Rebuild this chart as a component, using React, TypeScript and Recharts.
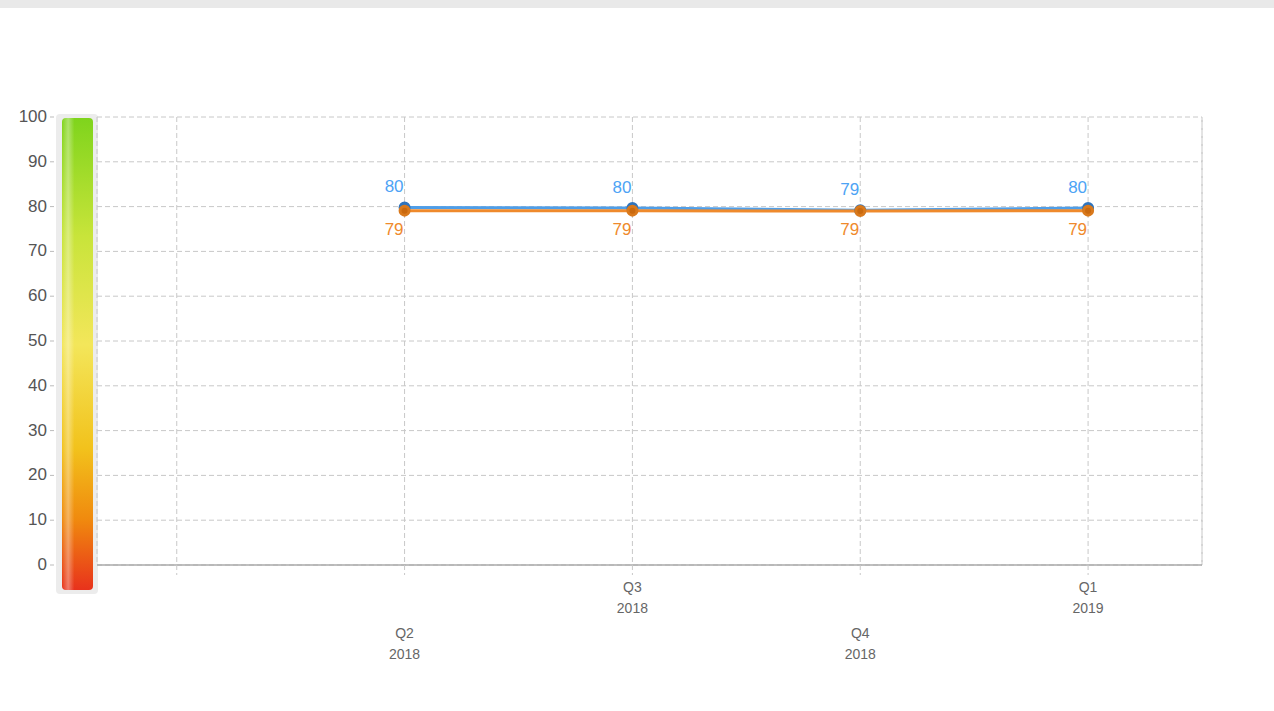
import React from "react";
import {
  LineChart,
  Line,
  XAxis,
  YAxis,
  CartesianGrid,
  LabelList,
  ReferenceLine,
} from "recharts";

// quarter index: 0 = Q1 2018 ... 4 = Q1 2019
const quarterIndex = [1, 2, 3, 4];
const quarterLabels = ["Q1", "Q2", "Q3", "Q4", "Q1"];
const yearLabels = ["2018", "2018", "2018", "2018", "2019"];
const blueSeries = [79.8, 79.7, 79.2, 79.7];
const orangeSeries = [79.1, 79.1, 79.0, 79.1];
const yTicks = [0, 10, 20, 30, 40, 50, 60, 70, 80, 90, 100];
const xTicks = [0, 1, 2, 3, 4];

const data = quarterIndex.map((x, i) => ({
  x,
  blue: blueSeries[i],
  orange: orangeSeries[i],
}));

const FONT = "'Liberation Sans', Arial, sans-serif";
const TEXT = "#555";
const GRID = "#c8c8c8";

const YTick = (props: any) => {
  const { x, y, payload } = props;
  return (
    <g>
      <text
        x={x - 50}
        y={y}
        dy={5}
        textAnchor="end"
        fontSize={17}
        fontFamily={FONT}
        fill={TEXT}
      >
        {payload.value}
      </text>
      <line x1={x - 47} x2={x - 43} y1={y} y2={y} stroke="#bbb" />
    </g>
  );
};

const XTick = (props: any) => {
  const { x, y, payload } = props;
  const i = payload.value;
  const low = i % 2 === 1;
  const top = low ? y + 59 : y + 13;
  return (
    <g>
      <line
        x1={x}
        x2={x}
        y1={y - 14}
        y2={y - 4}
        stroke={GRID}
        strokeDasharray="5 3"
      />
      {i > 0 && (
        <text
          x={x}
          y={top}
          textAnchor="middle"
          fontSize={14}
          fontFamily={FONT}
          fill="#666"
        >
          <tspan x={x} dy={0}>
            {quarterLabels[i]}
          </tspan>
          <tspan x={x} dy={21}>
            {yearLabels[i]}
          </tspan>
        </text>
      )}
    </g>
  );
};

const makeLabel = (color: string, above: boolean) => (props: any) => {
  const { x, y, value } = props;
  return (
    <text
      x={x - 1}
      y={above ? y - 15 : y + 24}
      textAnchor="end"
      fontSize={17}
      fontFamily={FONT}
      fill={color}
    >
      {Math.round(value)}
    </text>
  );
};

function GaugeBar() {
  return (
    <svg
      width={46}
      height={484}
      style={{ position: "absolute", left: 54, top: 112 }}
    >
      <defs>
        <linearGradient id="gauge" x1="0" y1="0" x2="0" y2="1">
          <stop offset="0%" stopColor="#7fd41c" />
          <stop offset="25%" stopColor="#c8e43a" />
          <stop offset="48%" stopColor="#f3e65a" />
          <stop offset="70%" stopColor="#f2c21c" />
          <stop offset="85%" stopColor="#f08a0e" />
          <stop offset="100%" stopColor="#e8321c" />
        </linearGradient>
        <linearGradient id="shine" x1="0" y1="0" x2="1" y2="0">
          <stop offset="0%" stopColor="#fff" stopOpacity={0} />
          <stop offset="20%" stopColor="#fff" stopOpacity={0.35} />
          <stop offset="40%" stopColor="#fff" stopOpacity={0} />
        </linearGradient>
      </defs>
      <rect x={2} y={2} width={42} height={480} rx={4} fill="#ececec" />
      <rect x={8} y={6} width={31} height={472} rx={4} fill="url(#gauge)" />
      <rect x={8} y={6} width={31} height={472} rx={4} fill="url(#shine)" />
    </svg>
  );
}

export default function App() {
  return (
    <div
      style={{
        position: "absolute",
        left: 0,
        top: 0,
        width: 1274,
        height: 711,
        background: "#fff",
        overflow: "hidden",
      }}
    >
      <div style={{ height: 8, background: "#e9e9e9" }} />
      <GaugeBar />
      <div style={{ position: "absolute", left: 0, top: 0 }}>
        <LineChart
          width={1274}
          height={711}
          data={data}
          margin={{ top: 117, right: 72, left: 0, bottom: 46 }}
        >
          <CartesianGrid stroke={GRID} strokeDasharray="5 3" />
          <ReferenceLine
            x={4.5}
            stroke={GRID}
            strokeDasharray="5 3"
            ifOverflow="extendDomain"
          />
          <XAxis
            type="number"
            dataKey="x"
            domain={[-0.35, 4.5]}
            ticks={xTicks}
            allowDataOverflow
            axisLine={{ stroke: "#aaa", strokeWidth: 1.5 }}
            tickLine={false}
            tickSize={0}
            tickMargin={14}
            height={100}
            tick={<XTick />}
            interval={0}
          />
          <YAxis
            domain={[0, 100]}
            ticks={yTicks}
            axisLine={false}
            tickLine={false}
            tickSize={0}
            tickMargin={0}
            width={97}
            tick={<YTick />}
            interval={0}
          />
          <Line
            dataKey="blue"
            stroke="#4f9ee8"
            strokeWidth={3}
            dot={{ r: 4.5, fill: "#2f74bd", stroke: "#2f74bd" }}
            isAnimationActive={false}
          >
            <LabelList dataKey="blue" content={makeLabel("#4da3f5", true)} />
          </Line>
          <Line
            dataKey="orange"
            stroke="#ef8a2c"
            strokeWidth={3}
            dot={{ r: 4.5, fill: "#c9690f", stroke: "#d9791c" }}
            isAnimationActive={false}
          >
            <LabelList
              dataKey="orange"
              content={makeLabel("#ef8a2c", false)}
            />
          </Line>
        </LineChart>
      </div>
    </div>
  );
}
